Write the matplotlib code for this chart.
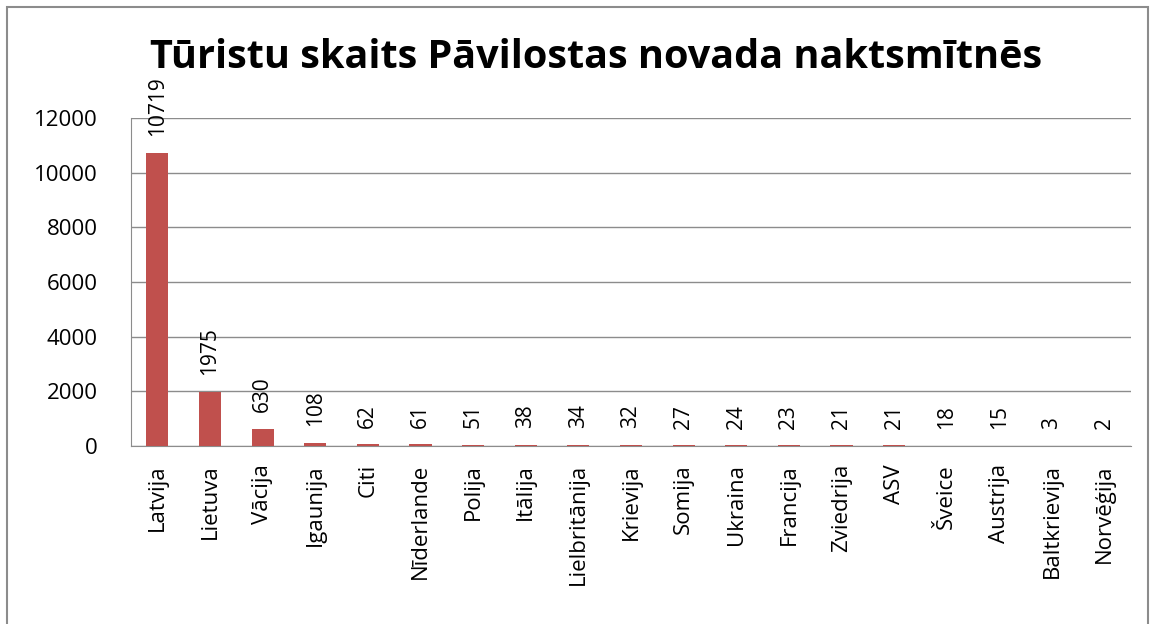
import matplotlib.pyplot as plt
from matplotlib.patches import Rectangle
import numpy as np

countries = ['Latvija', 'Lietuva', 'Vācija', 'Igaunija', 'Citi', 'Nīderlande', 'Polija',
             'Itālija', 'Lielbritānija', 'Krievija', 'Somija', 'Ukraina', 'Francija',
             'Zviedrija', 'ASV', 'Šveice', 'Austrija', 'Baltkrievija', 'Norvēģija']
tourists = [10719, 1975, 630, 108, 62, 61, 51, 38, 34, 32, 27, 24, 23, 21, 21, 18, 15, 3, 2]
yticks = [0, 2000, 4000, 6000, 8000, 10000, 12000]

plt.rcParams['font.family'] = ['Open Sans', 'DejaVu Sans']

fig = plt.figure(figsize=(11.57, 6.24), dpi=100)
fig.patches.append(Rectangle((7/1157, -0.1), 1141/1157, 1.1 - 7/624, transform=fig.transFigure,
                             fill=False, edgecolor='#8c8c8c', linewidth=1.5))
ax = fig.add_axes([131/1157, 1 - 446/624, 1000/1157, 328/624])

x = np.arange(len(countries))
ax.bar(x, tourists, width=0.42, color='#c0504d', zorder=3)
for xi, v in zip(x, tourists):
    ax.annotate(str(v), (xi, v), xytext=(0, 12), textcoords='offset points',
                rotation=90, ha='center', va='bottom', fontsize=15)

ax.set_xlim(-0.5, len(countries) - 0.5)
ax.set_ylim(0, 12000)
ax.set_yticks(yticks)
ax.set_yticklabels([str(t) for t in yticks], fontsize=16)
ax.set_xticks(x)
ax.set_xticklabels(countries, rotation=90, fontsize=16)
ax.tick_params(axis='x', length=0, pad=13)
ax.tick_params(axis='y', length=0, pad=24)
ax.grid(axis='y', color='#8c8c8c', linewidth=1, zorder=0)
for s in ['top', 'right']:
    ax.spines[s].set_visible(False)
ax.spines['left'].set_color('#8c8c8c')
ax.spines['bottom'].set_color('#8c8c8c')

fig.text(596/1157, 1 - 57/624, 'Tūristu skaits Pāvilostas novada naktsmītnēs',
         ha='center', va='center', fontsize=28.5, fontweight='bold')

fig.savefig('out.png', dpi=100)
